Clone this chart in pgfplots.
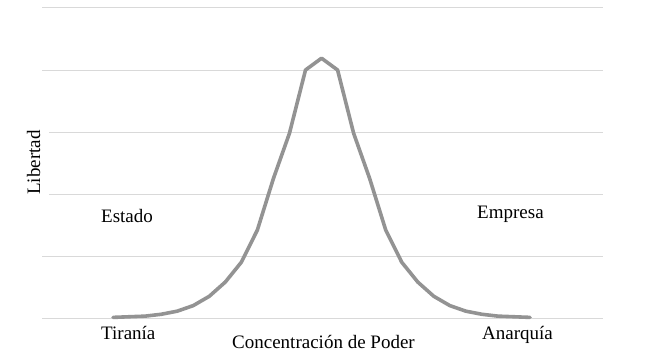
\documentclass[border=0pt]{standalone}
\usepackage{pgfplots}
\pgfplotsset{compat=1.18}
\usepackage{fontspec}
\setmainfont{Liberation Serif}
\definecolor{linegray}{HTML}{939393}
\definecolor{gridgray}{HTML}{D9D9D9}
\begin{document}
\begin{tikzpicture}
\useasboundingbox (0pt,0pt) rectangle (655pt,-358pt);
\begin{axis}[
  at={(42pt,-318pt)}, anchor=south west,
  scale only axis, width=561pt, height=310pt,
  xmin=-4.43, xmax=30.55, ymin=0, ymax=5,
  ytick={0,1,2,3,4,5}, yticklabels={}, xtick=\empty,
  ymajorgrids, grid style={color=gridgray, line width=1pt},
  axis line style={draw=none}, major tick length=0pt,
  clip=false,
]
\addplot[color=linegray, line width=3.6pt, line join=round, line cap=round] coordinates {
(0,0.01) (1,0.02) (2,0.03) (3,0.06) (4,0.11) (5,0.20) (6,0.35) (7,0.58)
(8,0.90) (9,1.42) (10,2.25) (11,2.98) (12,4.00) (13,4.19) (14,4.00)
(15,2.98) (16,2.25) (17,1.42) (18,0.90) (19,0.58) (20,0.35) (21,0.20)
(22,0.11) (23,0.06) (24,0.03) (25,0.02) (26,0.01)
};
\end{axis}
\fontsize{19}{22}\selectfont
\node[rotate=90, anchor=base west, fill=white, inner xsep=2pt, inner ysep=9pt] at (40pt,-197pt) {Libertad};
\node[anchor=base west, inner sep=0pt] at (101pt,-222pt) {Estado};
\node[anchor=base west, inner sep=0pt] at (477pt,-218pt) {Empresa};
\node[anchor=base west, inner sep=0pt] at (101pt,-339pt) {Tiranía};
\node[anchor=base west, inner sep=0pt] at (482pt,-339pt) {Anarquía};
\node[anchor=base west, inner sep=0pt] at (232pt,-348pt) {Concentración de Poder};
\end{tikzpicture}
\end{document}
